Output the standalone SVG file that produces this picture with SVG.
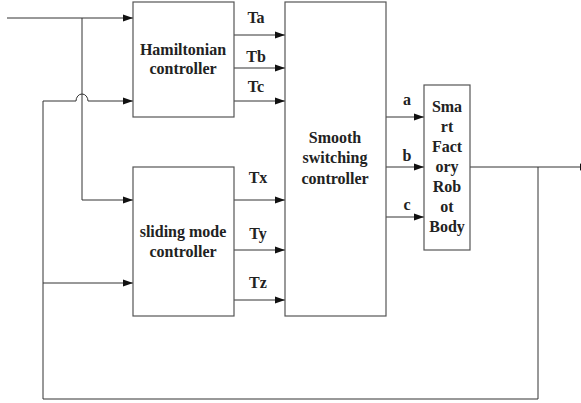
<svg xmlns="http://www.w3.org/2000/svg" width="581" height="403" viewBox="0 0 581 403">
<style>
.box{fill:#fff;stroke:#555;stroke-width:1.2}
.ln{fill:none;stroke:#333;stroke-width:1}
text{font-family:"Liberation Serif","Times New Roman",serif;font-weight:bold;font-size:16px;fill:#222;text-anchor:middle}
</style>
<defs>
<marker id="ar" markerWidth="10" markerHeight="8" refX="10" refY="4" orient="auto" markerUnits="userSpaceOnUse">
<path d="M0,0.5 L10,4 L0,7.5 Z" fill="#111"/>
</marker>
</defs>
<g id="connectors">
<path class="ln" d="M7,18 H133" marker-end="url(#ar)"/>
<path class="ln" d="M82,18 V200 H133" marker-end="url(#ar)"/>
<path class="ln" d="M43,399 V101 H76 A6,7 0 0 1 88,101 H133" marker-end="url(#ar)"/>
<path class="ln" d="M43,283 H133" marker-end="url(#ar)"/>
<path class="ln" d="M234,35 H285" marker-end="url(#ar)"/>
<path class="ln" d="M234,68 H285" marker-end="url(#ar)"/>
<path class="ln" d="M234,101 H285" marker-end="url(#ar)"/>
<path class="ln" d="M234,200 H285" marker-end="url(#ar)"/>
<path class="ln" d="M234,250 H285" marker-end="url(#ar)"/>
<path class="ln" d="M234,300 H285" marker-end="url(#ar)"/>
<path class="ln" d="M386,117 H424" marker-end="url(#ar)"/>
<path class="ln" d="M386,167 H424" marker-end="url(#ar)"/>
<path class="ln" d="M386,217 H424" marker-end="url(#ar)"/>
<path class="ln" d="M470,167 H590" marker-end="url(#ar)"/>
<path class="ln" d="M538,167 V399 H43"/>
<text x="256" y="23">Ta</text>
<text x="256" y="62">Tb</text>
<text x="256" y="92">Tc</text>
<text x="258" y="183">Tx</text>
<text x="258" y="239">Ty</text>
<text x="258" y="288">Tz</text>
<text x="407" y="105">a</text>
<text x="407" y="161">b</text>
<text x="407" y="210">c</text>
</g>
<g id="hamiltonian">
<rect class="box" x="133" y="2" width="101" height="115"/>
<text x="183" y="55">Hamiltonian</text>
<text x="183" y="74">controller</text>
</g>
<g id="sliding">
<rect class="box" x="133" y="167" width="101" height="149"/>
<text x="183" y="237">sliding mode</text>
<text x="183" y="257">controller</text>
</g>
<g id="smooth">
<rect class="box" x="285" y="2" width="101" height="314"/>
<text x="335" y="143">Smooth</text>
<text x="335" y="163">switching</text>
<text x="335" y="184">controller</text>
</g>
<g id="robot">
<rect class="box" x="424" y="85" width="46" height="165"/>
<text x="447" y="112">Sma</text>
<text x="447" y="132">rt</text>
<text x="447" y="152">Fact</text>
<text x="447" y="172">ory</text>
<text x="447" y="192">Rob</text>
<text x="447" y="212">ot</text>
<text x="447" y="232">Body</text>
</g>
</svg>
